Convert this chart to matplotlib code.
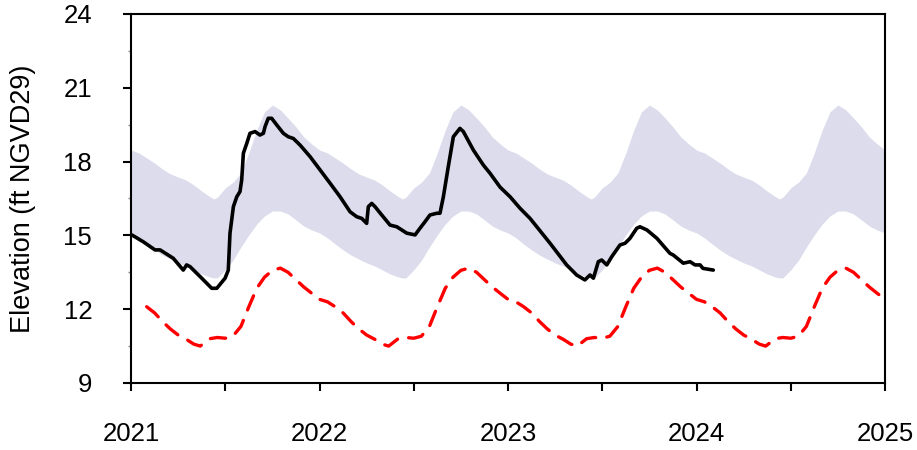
import numpy as np
import matplotlib
matplotlib.use("Agg")
import matplotlib.pyplot as plt

plt.rcParams['font.family'] = ['Liberation Sans', 'DejaVu Sans']

# ---- data ----
# Seasonal envelope (one year, phase 0..1 of the year); repeats each year
band_phase = [0.0, 0.042, 0.083, 0.125, 0.167, 0.208, 0.25, 0.292, 0.333, 0.375,
              0.417, 0.44, 0.458, 0.5, 0.542, 0.583, 0.625, 0.667, 0.708, 0.75,
              0.792, 0.833, 0.875, 0.917, 0.958]
band_upper = [18.47, 18.35, 18.15, 17.94, 17.70, 17.50, 17.37, 17.25, 17.05, 16.80,
              16.58, 16.48, 16.55, 16.93, 17.17, 17.54, 18.35, 19.28, 20.02, 20.30,
              20.10, 19.77, 19.41, 19.00, 18.72]
band_lower = [15.10, 14.90, 14.65, 14.41, 14.20, 14.04, 13.88, 13.76, 13.60, 13.43,
              13.31, 13.27, 13.27, 13.60, 14.00, 14.53, 15.02, 15.46, 15.79, 15.99,
              15.99, 15.87, 15.63, 15.38, 15.22]

# Red dashed seasonal reference line (one year, repeats)
red_phase = [0.0, 0.042, 0.083, 0.125, 0.167, 0.208, 0.25, 0.292, 0.333, 0.367,
             0.417, 0.458, 0.5, 0.54, 0.583, 0.625, 0.667, 0.708, 0.75, 0.792,
             0.833, 0.875, 0.917, 0.958]
red_value = [12.40, 12.30, 12.10, 11.85, 11.50, 11.20, 10.95, 10.78, 10.58, 10.50,
             10.80, 10.85, 10.82, 10.90, 11.30, 12.10, 12.85, 13.30, 13.58, 13.67,
             13.50, 13.20, 12.90, 12.65]

years = [2021, 2022, 2023, 2024]

# Observed stage (decimal year, ft NGVD29)
obs_time = [2021.004, 2021.065, 2021.127, 2021.154, 2021.224, 2021.277, 2021.295, 2021.313,
            2021.375, 2021.428, 2021.455, 2021.499, 2021.516, 2021.525, 2021.543, 2021.561,
            2021.578, 2021.587, 2021.596, 2021.614, 2021.631, 2021.658, 2021.684, 2021.702,
            2021.711, 2021.728, 2021.746, 2021.773, 2021.808, 2021.834, 2021.861, 2021.897,
            2021.950, 2022.003, 2022.056, 2022.109, 2022.162, 2022.197, 2022.224, 2022.250,
            2022.259, 2022.277, 2022.294, 2022.330, 2022.374, 2022.410, 2022.463, 2022.507,
            2022.533, 2022.560, 2022.586, 2022.622, 2022.639, 2022.657, 2022.683, 2022.710,
            2022.745, 2022.763, 2022.816, 2022.869, 2022.905, 2022.958, 2023.011, 2023.064,
            2023.117, 2023.223, 2023.311, 2023.364, 2023.408, 2023.435, 2023.453, 2023.479,
            2023.497, 2023.524, 2023.550, 2023.594, 2023.621, 2023.647, 2023.683, 2023.700,
            2023.737, 2023.790, 2023.859, 2023.877, 2023.930, 2023.966, 2023.992, 2024.019,
            2024.034, 2024.089]
obs_value = [15.02, 14.74, 14.41, 14.41, 14.07, 13.59, 13.80, 13.73,
             13.26, 12.85, 12.85, 13.26, 13.59, 15.09, 16.17, 16.57,
             16.78, 17.25, 18.34, 18.74, 19.15, 19.22, 19.08, 19.15,
             19.42, 19.76, 19.76, 19.49, 19.15, 19.01, 18.94, 18.67,
             18.20, 17.66, 17.12, 16.57, 15.96, 15.76, 15.69, 15.49,
             16.17, 16.30, 16.17, 15.83, 15.42, 15.35, 15.09, 15.02,
             15.29, 15.56, 15.83, 15.90, 15.90, 16.57, 17.79, 19.01,
             19.35, 19.22, 18.47, 17.86, 17.52, 16.96, 16.57, 16.10,
             15.69, 14.68, 13.80, 13.39, 13.19, 13.39, 13.26, 13.93,
             14.00, 13.80, 14.13, 14.61, 14.68, 14.88, 15.29, 15.35,
             15.22, 14.88, 14.27, 14.20, 13.87, 13.93, 13.80, 13.80,
             13.66, 13.59]

# ---- build repeated seasonal series ----
bt, bu, bl = [], [], []
for y in years:
    bt += [y + p for p in band_phase]
    bu += band_upper
    bl += band_lower
bt.append(years[-1] + 1); bu.append(band_upper[0]); bl.append(band_lower[0])

rt, rv = [], []
for y in years:
    rt += [y + p for p in red_phase]
    rv += red_value
rt.append(years[-1] + 1); rv.append(red_value[0])
rt = np.array(rt); rv = np.array(rv)
keep = rt >= 2021.08
rt = rt[keep]; rv = rv[keep]

# ---- plot ----
fig = plt.figure(figsize=(9.17, 4.5), dpi=100)
ax = fig.add_axes([0.1429, 0.1489, 0.8222, 0.82])

ax.fill_between(bt, bl, bu, color='#dcdcec', linewidth=0, zorder=1)
ax.plot(rt, rv, color='#ff0000', linewidth=2.4, linestyle=(0, (4.6, 3.4)), zorder=2,
        dash_capstyle='round')
ax.plot(obs_time, obs_value, color='black', linewidth=2.6, zorder=3,
        solid_joinstyle='round', solid_capstyle='round')

ax.set_xlim(2021, 2025)
ax.set_ylim(9, 24)
ax.set_xticks([2021, 2022, 2023, 2024, 2025])
ax.set_xticklabels(['2021', '2022', '2023', '2024', '2025'])
ax.set_xticks([2021.5, 2022.5, 2023.5, 2024.5], minor=True)
ax.set_yticks([9, 12, 15, 18, 21, 24])
ax.set_yticks([10.5, 13.5, 16.5, 19.5, 22.5], minor=True)

for s in ax.spines.values():
    s.set_linewidth(1.5)
    s.set_color('black')

ax.tick_params(axis='x', which='both', direction='out', length=6, width=1.5,
               labelsize=18.5, pad=22, top=False)
ax.tick_params(axis='y', which='major', direction='out', length=6, width=1.5,
               labelsize=18.5, pad=22, right=False)
ax.tick_params(axis='y', which='minor', direction='out', length=2, width=1.0,
               color='#888888', right=False)

ax.set_ylabel('Elevation (ft NGVD29)', fontsize=19.5, labelpad=20)

fig.savefig('out.png', dpi=100)
